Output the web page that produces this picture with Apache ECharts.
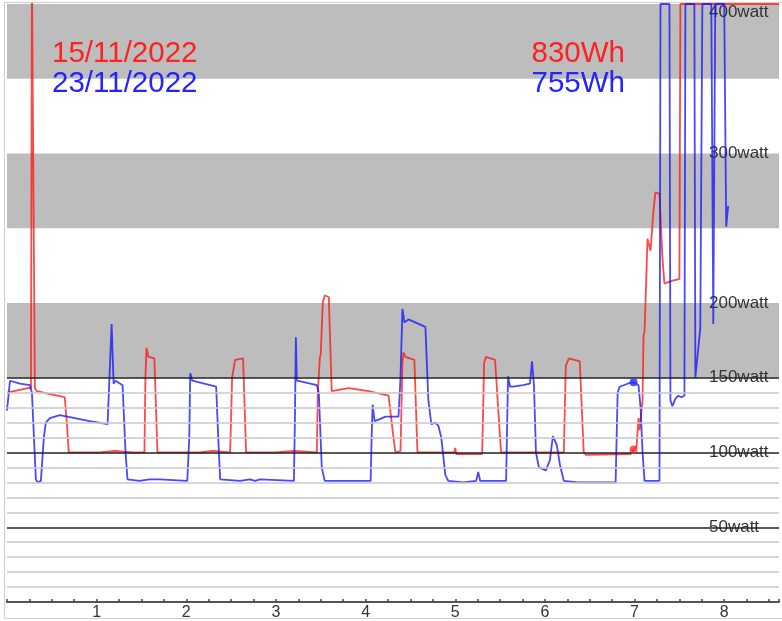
<!DOCTYPE html>
<html><head><meta charset="utf-8">
<script src="https://cdn.jsdelivr.net/npm/echarts@6.0.0/dist/echarts.min.js"></script>
<style>html,body{margin:0;padding:0;background:#fff}#c{width:782px;height:621px}</style>
</head><body><div id="c"></div>
<script>
// ---- data (x = hours, y = watts) ----
const redName = '15/11/2022', blueName = '23/11/2022';
const redTotal = '830Wh', blueTotal = '755Wh';
const redData = [[0,140],[0.233,143],[0.267,143],[0.278,420],[0.3,420],[0.311,143],[0.333,141],[0.478,139],[0.644,137],[0.667,120],[0.689,100],[1.033,100],[1.2,101],[1.4,100],[1.533,100],[1.544,150],[1.556,170],[1.578,164],[1.644,163],[1.678,100],[2.144,100],[2.3,101],[2.489,100],[2.511,150],[2.544,162],[2.633,163],[2.667,100],[3.0,100],[3.2,101],[3.456,100],[3.467,140],[3.489,163],[3.5,166],[3.522,200],[3.544,205],[3.589,204],[3.622,141],[3.811,143],[4.033,141],[4.256,138],[4.278,138],[4.311,110],[4.333,100],[4.389,101],[4.411,160],[4.422,167],[4.444,164],[4.544,162],[4.578,100],[4.989,100],[5.0,103],[5.011,99],[5.3,99],[5.322,160],[5.344,164],[5.444,162],[5.478,130],[5.511,100],[6.211,100],[6.233,158],[6.267,163],[6.389,161],[6.433,100],[6.456,98.5],[6.956,99],[6.989,102],[7.022,104],[7.044,123],[7.056,115],[7.089,135],[7.1,178],[7.111,181],[7.122,200],[7.144,243],[7.178,235],[7.211,262],[7.233,274],[7.278,273],[7.311,230],[7.333,213],[7.422,215],[7.5,216],[7.511,400],[8.611,400]];
const blueData = [[0,128],[0.033,148],[0.144,146],[0.256,145],[0.278,140],[0.322,82],[0.344,80],[0.378,81],[0.411,110],[0.433,120],[0.478,123],[0.589,125],[0.756,123],[0.922,121],[1.122,119],[1.144,120],[1.167,186],[1.189,146],[1.211,148],[1.289,145],[1.322,100],[1.344,82],[1.478,81],[1.589,82],[1.7,82],[2.011,81],[2.033,110],[2.044,153],[2.067,148],[2.2,146],[2.333,144],[2.356,110],[2.378,82],[2.6,81],[2.711,82],[2.767,81],[2.822,82],[3.2,81],[3.211,120],[3.222,177],[3.233,148],[3.311,147],[3.456,145],[3.478,140],[3.511,90],[3.544,81],[4.056,81],[4.067,110],[4.078,132],[4.1,121],[4.144,122],[4.222,124],[4.367,124],[4.389,150],[4.411,196],[4.433,187],[4.478,189],[4.667,184],[4.7,135],[4.733,119],[4.778,120],[4.811,118],[4.844,110],[4.889,85],[4.922,81],[5.089,80],[5.233,81],[5.256,87],[5.278,81],[5.567,81],[5.589,151],[5.611,144],[5.644,144],[5.756,145],[5.833,146],[5.856,161],[5.878,145],[5.9,100],[5.933,90],[6.011,88],[6.056,95],[6.089,111],[6.133,105],[6.167,92],[6.211,81],[6.367,80],[6.589,80],[6.789,80],[6.811,140],[6.833,144],[6.922,146],[6.989,147],[7.044,145],[7.067,130],[7.089,100],[7.111,81],[7.278,81],[7.289,400],[7.389,400],[7.4,135],[7.422,131],[7.456,136],[7.489,138],[7.522,137],[7.556,138],[7.567,400],[7.667,400],[7.678,150],[7.689,149],[7.733,183],[7.756,400],[7.856,400],[7.878,186],[7.9,400],[8.0,400],[8.022,251],[8.044,265]];
const redDot = [[6.989,102]];
const blueDot = [[6.989,147]];
const yLabelValues = [50,100,150,200,300,400];
const grayBands = [[150,200],[250,300],[350,400]];
const minorLines = [10,20,30,40,60,70,80,90,110,120,130,140];
const majorLines = [50,100,150];
const xMax = 8.611;

const RED = 'rgba(255,20,20,0.78)', BLUE = 'rgba(20,20,255,0.78)';
const FONT = 'Liberation Sans';
const BIG = '29.5px "Liberation Sans"';

const chart = echarts.init(document.getElementById('c'));
chart.setOption({
  animation: false,
  grid: { left: 7, right: 0, top: 4, bottom: 17 },
  xAxis: {
    type: 'value', min: 0, max: xMax, interval: 0.25, z: 2,
    axisLine: { show: true, lineStyle: { color: '#555', width: 2 } },
    axisTick: { show: true, inside: true, length: 3, lineStyle: { color: '#444', width: 1.5 } },
    splitLine: { show: false },
    axisLabel: {
      formatter: v => (Number.isInteger(v) && v > 0) ? String(v) : '',
      color: '#333', fontSize: 16, margin: 3, fontFamily: FONT
    }
  },
  yAxis: {
    type: 'value', min: 0, max: 400, interval: 50, position: 'right', z: 2,
    axisLine: { show: false }, axisTick: { show: false }, splitLine: { show: false },
    axisLabel: {
      inside: true, margin: 70, align: 'left', color: '#333', fontSize: 17, fontFamily: FONT,
      formatter: v => yLabelValues.includes(v) ? (v === 400 ? '{top|' + v + 'watt}' : v + 'watt') : '',
      rich: { top: { padding: [17, 0, 0, 0], fontSize: 17, color: '#333', fontFamily: FONT } }
    }
  },
  graphic: [
    { type: 'rect', shape: { x: 4.5, y: 2.5, width: 778, height: 616 }, style: { fill: 'none', stroke: '#cfcfcf', lineWidth: 1 }, z: 100, silent: true },
    { type: 'text', x: 52, y: 54, style: { text: redName, font: BIG, fill: '#ff2020', textVerticalAlign: 'middle' }, z: 100 },
    { type: 'text', x: 52, y: 84, style: { text: blueName, font: BIG, fill: '#2424ff', textVerticalAlign: 'middle' }, z: 100 },
    { type: 'text', x: 625, y: 54, style: { text: redTotal, font: BIG, fill: '#ff2020', textAlign: 'right', textVerticalAlign: 'middle' }, z: 100 },
    { type: 'text', x: 625, y: 84, style: { text: blueTotal, font: BIG, fill: '#2424ff', textAlign: 'right', textVerticalAlign: 'middle' }, z: 100 }
  ],
  series: [
    {
      name: 'bg', type: 'line', data: [], z: 0, silent: true,
      markArea: {
        silent: true, itemStyle: { color: '#bdbdbd' },
        data: grayBands.map(b => [{ yAxis: b[0] }, { yAxis: b[1] }])
      },
      markLine: {
        silent: true, symbol: ['none', 'none'], label: { show: false },
        data: minorLines.map(v => ({ yAxis: v, lineStyle: { color: '#c8c8c8', width: 1.5, type: 'solid' } }))
          .concat(majorLines.map(v => ({ yAxis: v, lineStyle: { color: '#222', width: 1.5, type: 'solid' } })))
      }
    },
    { name: redName, type: 'line', data: redData, showSymbol: false, z: 3, lineStyle: { color: RED, width: 1.8 }, itemStyle: { color: RED } },
    { name: blueName, type: 'line', data: blueData, showSymbol: false, z: 4, lineStyle: { color: BLUE, width: 1.8 }, itemStyle: { color: BLUE } },
    { type: 'scatter', data: redDot, symbolSize: 8, z: 5, itemStyle: { color: '#ff3030' } },
    { type: 'scatter', data: blueDot, symbolSize: 8, z: 5, itemStyle: { color: '#2a2aff' } }
  ]
});
</script>
</body></html>
